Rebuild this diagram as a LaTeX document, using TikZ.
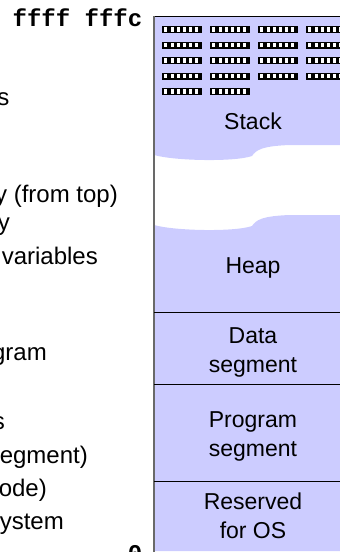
\documentclass[tikz,border=0pt]{standalone}
\usepackage{fontspec}
\setmainfont{Liberation Sans}
\newfontfamily\addrfont{Liberation Mono}
\usepackage{tikz}
\usetikzlibrary{positioning}
\definecolor{memblue}{RGB}{204, 204, 255}
\definecolor{edgegray}{RGB}{105, 105, 105}

\tikzset{
  segtext/.style={align=center, inner sep=0pt, font=\fontsize{23}{29}\selectfont},
  sidetext/.style={anchor=base east, inner sep=0pt, font=\fontsize{24}{26}\selectfont},
  addrtext/.style={anchor=base east, inner sep=0pt, font=\addrfont\bfseries\fontsize{24}{26}\selectfont},
  divider/.style={black, line width=0.8pt}
}
% one memory word of the stack
\newcommand{\memchip}[2]{%
  \fill[black] (#1,#2) rectangle ++(40,7);
  \foreach \k in {0,...,5}
    \fill[white] (#1+2.4+\k*6.2,#2+1.4) rectangle ++(3,4.2);
}

\begin{document}
\begin{tikzpicture}[x=1pt, y=-1pt]
  \useasboundingbox (0,0) rectangle (340,552);
  \clip (0,0) rectangle (340,552);

  % stack part and lower part of the address space
  \fill[memblue] (154,16) -- (352,16) -- (352,145) -- (290,145)
    .. controls (262,146) and (256,150) .. (252,156)
    .. controls (235,162) and (175,161) .. (154,155) -- cycle;
  \fill[memblue] (154,225) .. controls (175,231) and (235,232) .. (252,226)
    .. controls (256,220) and (262,216) .. (290,215)
    -- (352,215) -- (352,551) -- (154,551) -- cycle;

  \draw[black, line width=0.9pt] (154,16) -- (352,16);
  \draw[edgegray, line width=1.6pt] (154,16) -- (154,552);
  \draw[divider] (154,312) -- (352,312);
  \draw[divider] (154,384) -- (352,384);
  \draw[divider] (154,481) -- (352,481);

  % words on the stack
  \foreach \row in {0,...,3} {
    \foreach \col in {0,...,3} {
      \memchip{162+48*\col}{26+15.5*\row}
    }
  }
  \foreach \col in {0,1} {
    \memchip{162+48*\col}{88}
  }

  \node[segtext, anchor=base] (stack) at (253,129) {Stack};
  \node[segtext, anchor=base] (heap) at (253,273) {Heap};
  \node[segtext] (data) at (253,352) {Data\\segment};
  \node[segtext] (prog) at (253,436) {Program\\segment};
  \node[segtext] (os) at (253,516) {Reserved\\for OS};

  % addresses
  \node[addrtext] (top) at (142.5,26) {ffff fffc};
  \node[addrtext] (zero) at (142.5,561) {0};

  % notes on the left, cut by the frame
  \node[sidetext] (n1) at (9.5,105) {s};
  \node[sidetext] (n2) at (118,202) {y (from top)};
  \node[sidetext] (n3) at (10,230) {y};
  \node[sidetext] (n4) at (98,264) {variables};
  \node[sidetext] (n5) at (47,360) {gram};
  \node[sidetext] (n6) at (5,429) {s};
  \node[sidetext] (n7) at (88,463) {egment)};
  \node[sidetext] (n8) at (47,496) {ode)};
  \node[sidetext] (n9) at (64,529) {ystem};
\end{tikzpicture}
\end{document}
